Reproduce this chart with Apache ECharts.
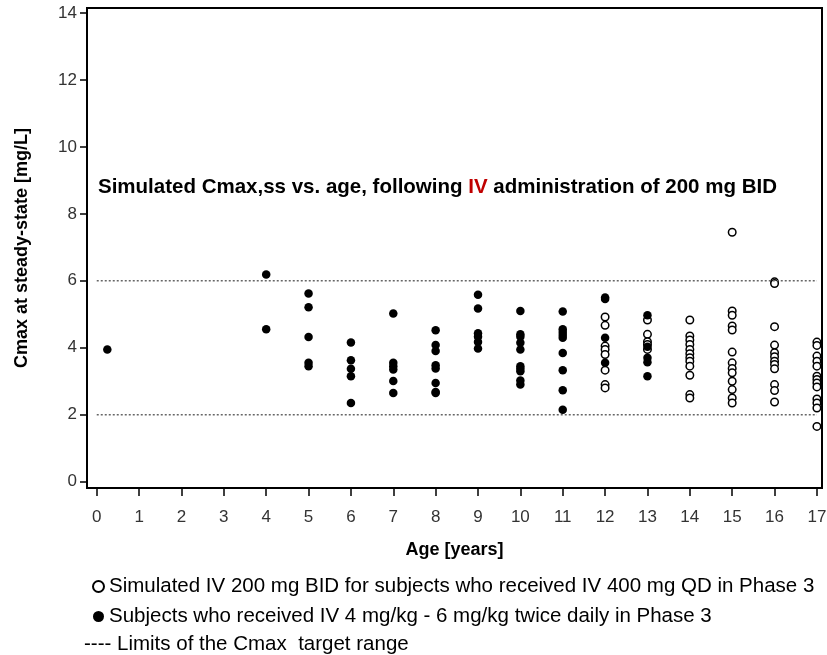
<!DOCTYPE html>
<html>
<head>
<meta charset="utf-8">
<script src="https://cdn.jsdelivr.net/npm/echarts@6/dist/echarts.min.js"></script>
<style>
  html, body { margin: 0; padding: 0; background: #fff; }
  #chart { width: 827px; height: 655px; }
</style>
</head>
<body>
<div id="chart"></div>
<script>
// ticks
var xTicks = [0, 1, 2, 3, 4, 5, 6, 7, 8, 9, 10, 11, 12, 13, 14, 15, 16, 17];
var yTicks = [0, 2, 4, 6, 8, 10, 12, 14];

// target range limits
var limitLow = 2;
var limitHigh = 6;
var limitSpan = [0, 17];

// subjects who received IV 4-6 mg/kg twice daily (filled)
var phase3Points = [
  [0.25, 3.95],
  [4, 6.19], [4, 4.55],
  [5, 5.62], [5, 5.21], [5, 4.32], [5, 3.55], [5, 3.45],
  [6, 4.16], [6, 3.63], [6, 3.37], [6, 3.15], [6, 2.35],
  [7, 5.02], [7, 3.55], [7, 3.45], [7, 3.35], [7, 3.01], [7, 2.65],
  [8, 4.52], [8, 4.08], [8, 3.90], [8, 3.48], [8, 3.38], [8, 2.95], [8, 2.68], [8, 2.65],
  [9, 5.58], [9, 5.17], [9, 4.43], [9, 4.33], [9, 4.17], [9, 3.98],
  [10, 5.10], [10, 4.40], [10, 4.33], [10, 4.15], [10, 3.95], [10, 3.45], [10, 3.37], [10, 3.30], [10, 3.02], [10, 2.90],
  [11, 5.08], [11, 4.55], [11, 4.47], [11, 4.38], [11, 4.30], [11, 3.84], [11, 3.33], [11, 2.73], [11, 2.15],
  [12, 5.50], [12, 5.46], [12, 4.30], [12, 3.55],
  [13, 4.97], [13, 4.03], [13, 3.70], [13, 3.57], [13, 3.15]
];

// simulated IV 200 mg BID (open)
var simulatedPoints = [
  [12, 4.92], [12, 4.67], [12, 4.05], [12, 3.95], [12, 3.80], [12, 3.33], [12, 2.90], [12, 2.80],
  [13, 4.83], [13, 4.40], [13, 4.18], [13, 4.10], [13, 3.95],
  [14, 4.83], [14, 4.35], [14, 4.23], [14, 4.10], [14, 3.95], [14, 3.82], [14, 3.70], [14, 3.60], [14, 3.45], [14, 3.18], [14, 2.60], [14, 2.50],
  [15, 7.45], [15, 5.10], [15, 4.97], [15, 4.65], [15, 4.53], [15, 3.87], [15, 3.55], [15, 3.38], [15, 3.25], [15, 3.00], [15, 2.75], [15, 2.50], [15, 2.35],
  [16, 5.97], [16, 5.92], [16, 4.63], [16, 4.08], [16, 3.85], [16, 3.73], [16, 3.60], [16, 3.50], [16, 3.37], [16, 2.90], [16, 2.72], [16, 2.38],
  [17, 4.17], [17, 4.07], [17, 3.75], [17, 3.60], [17, 3.45], [17, 3.15], [17, 3.05], [17, 2.95], [17, 2.83], [17, 2.47], [17, 2.35], [17, 2.20], [17, 1.65]
];

var fontFam = "'Liberation Sans', Arial, sans-serif";
var chart = echarts.init(document.getElementById("chart"));

var limitStyle = { color: "#666", width: 1.5, type: [2, 2] };

var option = {
  animation: false,
  title: {
    left: 93,
    top: 172,
    text: "{a|Simulated Cmax,ss vs. age, following }{r|IV}{a| administration of 200 mg BID}",
    textStyle: {
      rich: {
        a: { fontSize: 20.5, fontWeight: "bold", color: "#000", fontFamily: fontFam },
        r: { fontSize: 20.5, fontWeight: "bold", color: "#c00000", fontFamily: fontFam }
      }
    }
  },
  grid: {
    left: 87, right: 5, top: 8, bottom: 167,
    outerBoundsMode: "none",
    containLabel: false,
    show: true, borderColor: "#000", borderWidth: 2
  },
  legend: {
    orient: "vertical",
    left: 87,
    top: 571,
    itemGap: 9,
    itemWidth: 11,
    itemHeight: 11,
    textStyle: { fontSize: 20.5, color: "#000", fontFamily: fontFam },
    data: [
      { name: "Simulated IV 200 mg BID for subjects who received IV 400 mg QD in Phase 3", icon: "circle" },
      { name: "Subjects who received IV 4 mg/kg - 6 mg/kg twice daily in Phase 3", icon: "circle" }
    ]
  },
  graphic: [
    {
      type: "text",
      left: 84,
      top: 634,
      style: { text: "---- Limits of the Cmax  target range", fontSize: 20.5, fill: "#000", fontFamily: fontFam }
    }
  ],
  xAxis: {
    type: "value",
    min: -0.23,
    max: 17.12,
    name: "Age [years]",
    nameLocation: "middle",
    nameGap: 53,
    nameTextStyle: { fontSize: 18, fontWeight: "bold", color: "#000", fontFamily: fontFam },
    axisLine: { onZero: false, lineStyle: { color: "#000", width: 2 } },
    axisTick: { show: true, length: 8, customValues: xTicks, lineStyle: { color: "#000", width: 1.5 } },
    axisLabel: { customValues: xTicks, fontSize: 17, color: "#333", margin: 21, fontFamily: fontFam },
    splitLine: { show: false }
  },
  yAxis: {
    type: "value",
    min: -0.19,
    max: 14.15,
    name: "Cmax at steady-state [mg/L]",
    nameLocation: "middle",
    nameGap: 56,
    nameTextStyle: { fontSize: 18, fontWeight: "bold", color: "#000", fontFamily: fontFam },
    axisLine: { onZero: false, lineStyle: { color: "#000", width: 2 } },
    axisTick: { show: true, length: 7, customValues: yTicks, lineStyle: { color: "#000", width: 1.5 } },
    axisLabel: { customValues: yTicks, fontSize: 17, color: "#333", margin: 10, fontFamily: fontFam },
    splitLine: { show: false }
  },
  series: [
    {
      name: "limitHigh",
      type: "line",
      data: [[limitSpan[0], limitHigh], [limitSpan[1], limitHigh]],
      symbol: "none",
      lineStyle: limitStyle,
      silent: true
    },
    {
      name: "limitLow",
      type: "line",
      data: [[limitSpan[0], limitLow], [limitSpan[1], limitLow]],
      symbol: "none",
      lineStyle: limitStyle,
      silent: true
    },
    {
      name: "Simulated IV 200 mg BID for subjects who received IV 400 mg QD in Phase 3",
      type: "scatter",
      data: simulatedPoints,
      symbol: "circle",
      symbolSize: 7.5,
      itemStyle: { color: "#fff", borderColor: "#000", borderWidth: 1.5, opacity: 1 }
    },
    {
      name: "Subjects who received IV 4 mg/kg - 6 mg/kg twice daily in Phase 3",
      type: "scatter",
      data: phase3Points,
      symbol: "circle",
      symbolSize: 8.5,
      itemStyle: { color: "#000", opacity: 1 }
    }
  ]
};

chart.setOption(option);
</script>
</body>
</html>
